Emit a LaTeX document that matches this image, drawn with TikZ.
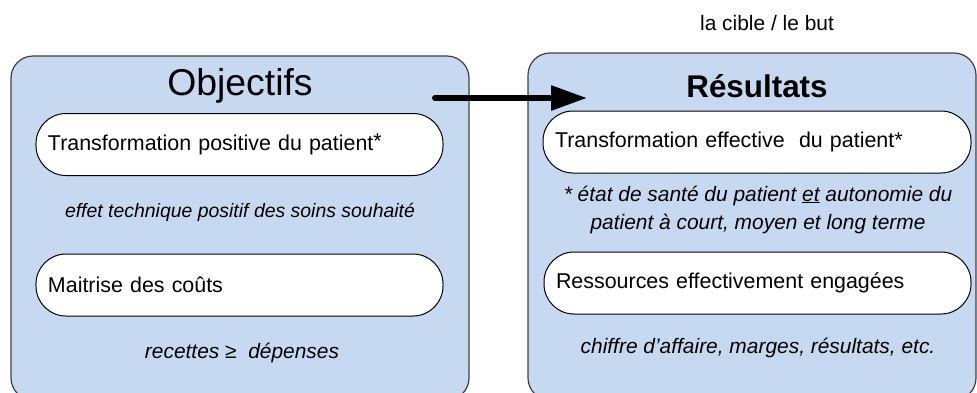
\documentclass[tikz,border=0pt]{standalone}
\usepackage{fontspec}
\setmainfont{Liberation Sans}
\usetikzlibrary{arrows.meta}
\definecolor{boxblue}{RGB}{198,217,240}
\definecolor{edgegray}{RGB}{64,64,64}

\begin{document}
\begin{tikzpicture}[x=1bp, y=-1bp,
		panel/.style={draw=edgegray, line width=1.2bp, fill=boxblue, rounded corners=22bp},
		pill/.style={draw=black, line width=1bp, fill=white, rounded corners=30bp,
			minimum height=62bp, inner xsep=12bp, inner ysep=0pt, align=left,
			font=\fontsize{21.5}{25}\selectfont},
		title/.style={font=\fontsize{37.5}{42}\selectfont},
		note/.style={font=\fontsize{21}{29}\selectfont\itshape, align=center},
		goal arrow/.style={line width=6bp, line cap=round, -{Triangle[length=36bp,width=24bp]}}]
		%%%%% START %%%%%
		
		\useasboundingbox (0,0) rectangle (977,392);
		
		\node[font=\fontsize{21}{24}\selectfont] (target) at (767,23) {la cible / le but};
		
		% two panels
		\draw[panel] (11,56) rectangle (469,400);
		\draw[panel] (528,53) rectangle (976,400);
		
		\node[title] (obj title) at (240,86) {Objectifs};
		\node[title, font=\fontsize{31.5}{36}\selectfont\bfseries] (res title) at (757,86) {Résultats};
		
		% left panel
		\node[pill, text width=383bp] (obj patient) at (239.5,144.5) {Transformation positive du patient\raisebox{0.12em}{*}};
		\node[note, font=\fontsize{19.5}{24}\selectfont\itshape] (obj effect) at (240,212) {effet technique positif des soins souhaité};
		\node[pill, text width=383bp] (obj cost) at (239.5,285) {Maitrise des coûts};
		\node[note] (obj budget) at (242,353) {recettes ≥~ dépenses};
		
		% right panel
		\node[pill, text width=404bp] (res patient) at (757,142) {Transformation effective~ du patient*};
		\node[note] (res health) at (758,210) {* état de santé du patient \underline{et} autonomie du\\patient à court, moyen et long terme};
		\node[pill, text width=403bp] (res cost) at (757.5,283) {Ressources effectivement engagées};
		\node[note] (res money) at (758,348) {chiffre d’affaire, marges, résultats, etc.};
		
		\coordinate (arrow tail) at (435,98);
		\coordinate (arrow head) at (587,98);
		\draw[goal arrow] (arrow tail) -- (arrow head);
		
		%%%%% END %%%%%
	\end{tikzpicture}
\end{document}
